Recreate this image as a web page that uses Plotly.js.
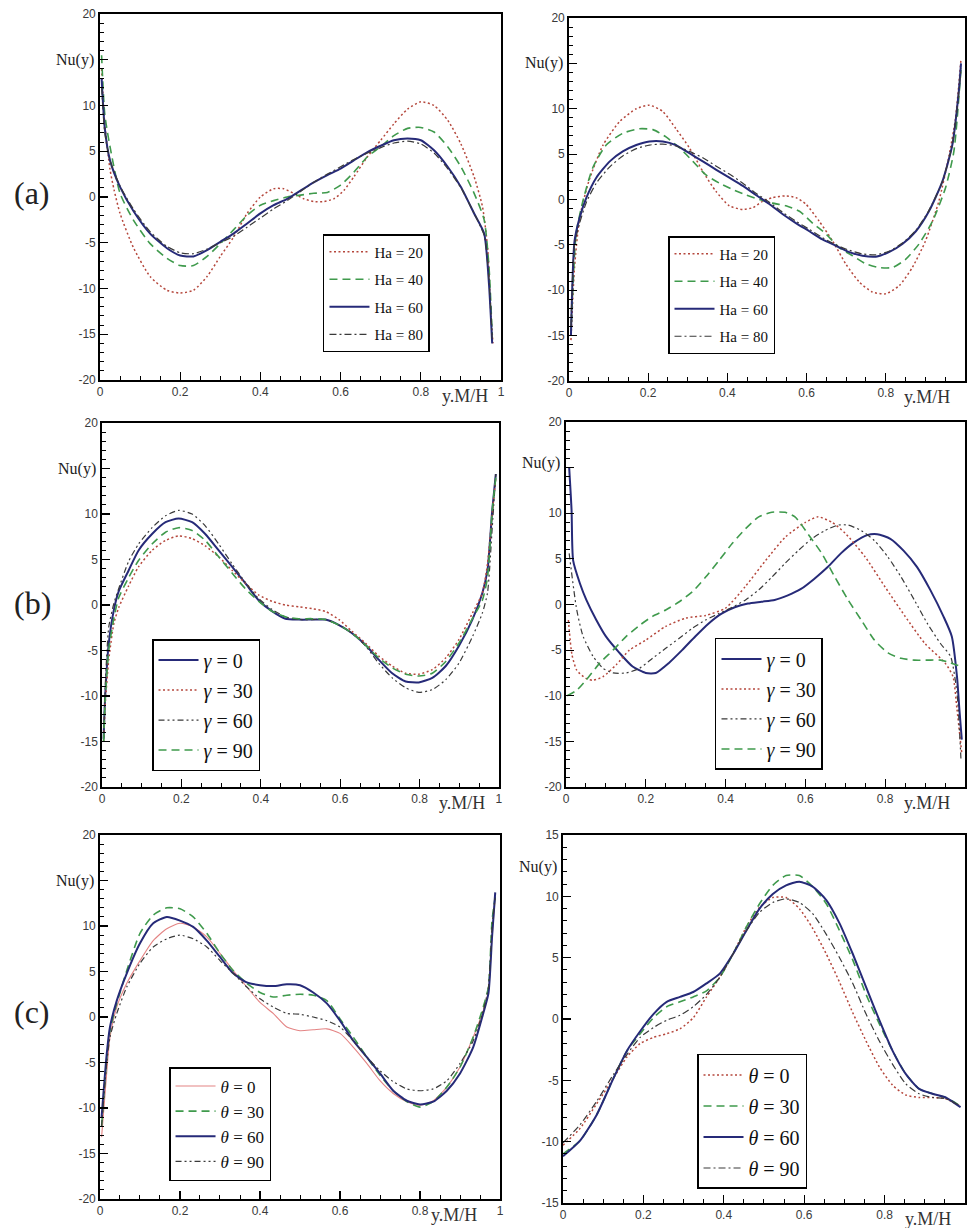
<!DOCTYPE html>
<html><head><meta charset="utf-8">
<script src="https://cdn.plot.ly/plotly-3.0.1.min.js"></script>
<style>html,body{margin:0;padding:0;background:#fff}#chart{width:967px;height:1228px}</style>
</head><body><div id="chart"></div><script>
// ---------- Panel (a) left : Ha ----------
const aL_x = [0.004,0.012,0.025,0.05,0.083,0.125,0.167,0.2,0.233,0.267,0.3,0.333,0.367,0.4,0.433,0.467,0.5,0.533,0.567,0.6,0.633,0.667,0.7,0.733,0.767,0.8,0.833,0.867,0.9,0.933,0.958,0.97,0.978];
const aL_ha20_x = [0.004,0.012,0.025,0.035,0.05,0.083,0.125,0.167,0.2,0.233,0.267,0.3,0.333,0.367,0.4,0.433,0.458,0.483,0.508,0.533,0.558,0.583,0.608,0.633,0.667,0.7,0.733,0.767,0.8,0.833,0.867,0.9,0.933,0.954,0.967,0.975,0.98];
const aL_ha20 = [14,8,3,0.8,-1.8,-5.5,-8.7,-10.2,-10.5,-10.2,-8.7,-6.5,-4.4,-1.8,0,0.9,0.9,0.4,-0.2,-0.5,-0.5,-0.2,0.7,2.2,4.4,6.2,8,9.6,10.4,10,8.4,5.8,2.2,-1.1,-5.8,-13,-16];
const aL_ha40 = [15.5,9,5.5,0.4,-2.5,-5.1,-6.7,-7.5,-7.5,-6.5,-5.1,-3.6,-2,-0.9,-0.4,0,0.2,0.4,0.5,1.3,2.7,4.4,5.5,6.7,7.5,7.6,7.1,5.5,3.3,0.4,-2.5,-7.6,-15];
const aL_ha60 = [13,7.5,4,1.1,-1.5,-4,-5.6,-6.4,-6.5,-5.8,-4.9,-4,-2.9,-1.8,-0.9,-0.2,0.7,1.6,2.4,3.1,4,4.9,5.6,6.2,6.4,6.2,5.1,3.3,1.1,-1.8,-4,-9.5,-16];
const aL_ha80 = [12,7,4,1.2,-1.3,-3.8,-5.4,-6.1,-6.2,-5.7,-5,-4.3,-3.3,-2.3,-1.3,-0.4,0.6,1.6,2.5,3.3,4.1,4.8,5.4,5.9,6.1,5.8,4.8,3.1,1,-1.8,-4.2,-9,-15.5];

// ---------- Panel (a) right : Ha ----------
const aR_ha20_x = [0.005,0.014,0.027,0.05,0.086,0.128,0.17,0.203,0.237,0.27,0.304,0.338,0.371,0.405,0.439,0.464,0.489,0.514,0.548,0.573,0.598,0.632,0.666,0.699,0.733,0.766,0.8,0.834,0.867,0.9,0.934,0.96,0.976,0.99];
const aR_ha20 = [-15.5,-7.5,-2,2,6,8.6,10,10.4,9.7,7.8,5.7,3.1,0.9,-0.7,-1.1,-0.9,-0.2,0.2,0.4,0.2,-0.5,-2.4,-4.6,-7.1,-9.1,-10.2,-10.4,-9.5,-7.5,-4.6,-0.2,4.9,8.9,15.5];
const aR_ha40_x = [0.005,0.018,0.035,0.06,0.094,0.136,0.178,0.212,0.245,0.279,0.313,0.346,0.38,0.413,0.447,0.48,0.514,0.548,0.582,0.615,0.649,0.682,0.716,0.75,0.783,0.817,0.85,0.884,0.918,0.951,0.972,0.99];
const aR_ha40 = [-15,-3.8,-0.2,3.5,6,7.3,7.8,7.7,6.9,5.7,4.2,2.7,1.8,1.1,0.5,0,-0.4,-0.7,-1.3,-2.6,-3.8,-5.3,-6.2,-7.1,-7.5,-7.5,-6.6,-4.9,-2.4,1.3,5.3,14.4];
const aR_x = [0.005,0.014,0.027,0.044,0.069,0.103,0.136,0.17,0.203,0.237,0.27,0.304,0.338,0.371,0.405,0.439,0.472,0.506,0.539,0.573,0.607,0.64,0.674,0.708,0.741,0.775,0.808,0.842,0.876,0.909,0.943,0.968,0.985,0.99];
const aR_ha60 = [-15,-4.6,-2,0.2,2.4,4.2,5.3,6,6.4,6.4,6,5.1,4.2,3.3,2.4,1.5,0.5,-0.5,-1.6,-2.6,-3.5,-4.4,-5.1,-5.8,-6.2,-6.3,-5.8,-4.9,-3.5,-1.3,2,6,12.2,15];
const aR_ha80 = [-14,-5,-2.6,-0.3,1.8,3.6,4.8,5.6,6,6.1,5.9,5.3,4.6,3.7,2.8,1.8,0.7,-0.3,-1.4,-2.4,-3.3,-4.2,-5,-5.6,-6,-6.1,-5.7,-4.8,-3.4,-1.2,2,6,12,14.5];

// ---------- Panel (b) left : gamma ----------
const bL_x = [0.004,0.008,0.017,0.03,0.042,0.067,0.092,0.126,0.16,0.193,0.227,0.26,0.294,0.328,0.361,0.395,0.429,0.462,0.496,0.529,0.563,0.597,0.63,0.664,0.697,0.731,0.765,0.798,0.832,0.866,0.899,0.933,0.958,0.971,0.983,0.992];
const bL_g0  = [-14.7,-10,-4.2,-0.5,1.5,3.8,6,7.8,9.1,9.5,9.1,7.8,6,4.2,2.4,0.5,-0.7,-1.5,-1.6,-1.6,-1.6,-2.2,-3.1,-4.4,-6,-7.5,-8.4,-8.5,-8,-6.7,-4.5,-1.6,1.3,3.8,10.4,14.4];
const bL_g30 = [-15,-11,-6,-2,-0.3,2.1,4.2,6,7.1,7.6,7.3,6.5,5.3,3.8,2.4,1.1,0.4,0,-0.2,-0.4,-0.7,-1.6,-2.9,-4.2,-5.6,-6.7,-7.5,-7.6,-7.1,-5.8,-3.8,-0.9,1.3,4.5,10,14];
const bL_g60 = [-15,-9,-2.4,0.2,1.8,4.8,6.7,8.5,9.8,10.4,10,8.7,6.7,4.5,2.5,0.7,-0.5,-1.3,-1.6,-1.6,-1.6,-2.2,-3.1,-4.5,-6.4,-8,-9.1,-9.6,-9.3,-8.2,-6.4,-3.5,-0.9,1.3,8.5,14.4];
const bL_g90 = [-15,-10.5,-4.9,-1.4,0.8,3,4.9,6.7,8,8.5,8.2,7.1,5.3,3.5,1.8,0.4,-0.7,-1.3,-1.5,-1.5,-1.6,-2.2,-3.1,-4.4,-5.8,-6.9,-7.6,-7.8,-7.5,-6.2,-4.2,-1.5,0.5,3,10.4,14];

// ---------- Panel (b) right : gamma ----------
const bR_g0_x = [0.008,0.014,0.018,0.035,0.051,0.076,0.1,0.134,0.167,0.2,0.225,0.258,0.291,0.324,0.357,0.39,0.423,0.456,0.49,0.523,0.556,0.589,0.622,0.656,0.689,0.722,0.755,0.78,0.813,0.846,0.88,0.913,0.946,0.967,0.98,0.986,0.992];
const bR_g0 = [15,10.3,4.8,2.3,0.5,-1.7,-3.5,-5.3,-6.8,-7.5,-7.5,-6.4,-5,-3.5,-2.1,-1,-0.3,0.1,0.3,0.5,1,1.7,2.8,4.1,5.6,6.8,7.6,7.7,7.2,5.9,4.1,1.6,-1.3,-3.5,-7.9,-11.5,-14.8];
const bR_g30_x = [0.006,0.015,0.027,0.05,0.068,0.093,0.126,0.159,0.2,0.25,0.3,0.35,0.4,0.45,0.5,0.55,0.6,0.632,0.667,0.7,0.75,0.8,0.85,0.9,0.95,0.97,0.98,0.992];
const bR_g30 = [-1.7,-5.5,-7.2,-8.1,-8.3,-7.9,-6.6,-5,-3.9,-2.4,-1.5,-1.2,-0.4,2,4.8,7.4,9,9.6,9,7.8,5.2,1.9,-1.3,-4.3,-6.4,-7.9,-11.5,-16.3];
const bR_g60_x = [0.008,0.027,0.043,0.068,0.093,0.118,0.151,0.184,0.217,0.25,0.284,0.317,0.35,0.383,0.417,0.45,0.483,0.516,0.549,0.582,0.616,0.649,0.682,0.707,0.74,0.773,0.807,0.84,0.873,0.906,0.939,0.964,0.98,0.99];
const bR_g60 = [5.6,-0.6,-3.5,-5.7,-7,-7.5,-7.5,-7,-5.9,-4.8,-3.7,-2.6,-1.7,-1,-0.3,0.5,1.6,3,4.5,5.9,7.2,8.1,8.7,8.7,8.1,7,5.2,3,0.5,-2.1,-4.3,-5.7,-9.7,-17];
const bR_g90_x = [0.003,0.027,0.05,0.085,0.118,0.151,0.184,0.217,0.25,0.284,0.317,0.35,0.383,0.417,0.45,0.483,0.516,0.549,0.574,0.607,0.641,0.674,0.707,0.74,0.773,0.807,0.84,0.873,0.906,0.939,0.964,0.99];
const bR_g90 = [-10,-9.4,-8.3,-6.4,-5,-3.5,-2.3,-1.3,-0.6,0.3,1.4,3,4.8,6.7,8.3,9.6,10.1,10.1,9.6,7.7,5.6,3,0.5,-1.7,-3.9,-5.3,-5.9,-6.1,-6.1,-6.1,-6.4,-6.8];

// ---------- Panel (c) left : theta ----------
const cL_x = [0.004,0.017,0.025,0.042,0.067,0.1,0.133,0.167,0.2,0.233,0.267,0.3,0.333,0.367,0.4,0.433,0.467,0.5,0.533,0.567,0.6,0.633,0.667,0.7,0.733,0.767,0.8,0.833,0.867,0.9,0.933,0.958,0.971,0.98,0.988];
const cL_t0  = [-13.2,-6,-2.2,1.1,3.7,6.2,8.4,9.7,10.3,9.9,8.8,7,5.1,3.3,1.6,0.4,-1.1,-1.5,-1.4,-1.3,-1.8,-3.3,-5.1,-7,-8.4,-9.3,-9.7,-9.2,-7.7,-5.5,-2.2,0.7,2.9,8.8,13.2];
const cL_t30 = [-12,-4.5,-1.5,1.5,5.1,9.2,11.2,12,11.9,11,9.2,7,5.1,3.7,2.7,2.2,2.4,2.5,2.4,1.8,-0.2,-2.2,-4.4,-6.4,-8.1,-9.3,-9.9,-9.3,-7.7,-5.5,-2.2,1.1,3.3,10.6,13.2];
const cL_t60 = [-11,-4,-1.1,1.8,4.8,8.1,10.3,11,10.6,9.9,8.4,6.6,4.8,3.8,3.5,3.4,3.6,3.5,2.7,1.5,-0.4,-2.6,-4.4,-6.2,-8.1,-9.2,-9.6,-9.3,-8.1,-6.2,-3.3,0.4,2.6,8.8,13.7];
const cL_t90 = [-12,-5,-2.2,0.4,3.3,5.9,7.7,8.6,9,8.6,7.7,6.2,4.8,3.3,2,1.1,0.4,0.3,0,-0.4,-1.1,-2.6,-4.4,-5.9,-7.1,-7.9,-8.1,-7.9,-7,-5.1,-2.6,0.7,3.3,9.9,13.2];

// ---------- Panel (c) right : theta ----------
const cR_x = [0,0.043,0.084,0.126,0.159,0.192,0.225,0.258,0.291,0.324,0.357,0.39,0.423,0.456,0.489,0.522,0.555,0.588,0.621,0.655,0.688,0.721,0.754,0.787,0.82,0.853,0.886,0.919,0.952,0.989];
const cR_t0  = [-10.3,-8.9,-6.9,-4.8,-3.1,-2,-1.5,-1.2,-0.8,0.1,1.8,3.4,5.3,7.5,9.1,9.9,9.9,9,7.4,5.3,3,0.5,-1.8,-3.9,-5.4,-6.2,-6.4,-6.4,-6.5,-7.1];
const cR_t30 = [-11,-9.9,-7.8,-4.8,-2.6,-1.2,0.1,1,1.4,1.8,2.3,3.4,5.3,7.5,9.4,10.9,11.7,11.7,10.8,9.4,7.2,4.8,2,-0.4,-2.6,-4.5,-5.7,-6.1,-6.4,-7.1];
const cR_t60 = [-11.2,-9.9,-7.8,-4.8,-2.6,-1,0.4,1.4,1.8,2.2,2.9,3.7,5.3,7.2,9,10.2,10.9,11.2,10.8,9.7,7.8,5.3,2.6,-0.1,-2.6,-4.5,-5.7,-6.1,-6.4,-7.2];
const cR_t90 = [-10.1,-8.6,-6.7,-4.5,-2.9,-1.5,-0.7,-0.1,0.3,1,2,3.4,5.3,7.2,8.7,9.5,9.8,9.5,8.6,6.9,5,2.9,0.4,-1.8,-3.7,-5.3,-6.1,-6.4,-6.5,-7.1];

// ---------- labels ----------
const haNames = ['Ha = 20','Ha = 40','Ha = 60','Ha = 80'];
const gammaNames = ['<i>γ</i> = 0','<i>γ</i> = 30','<i>γ</i> = 60','<i>γ</i> = 90'];
const thetaNames = ['<i>θ</i> = 0','<i>θ</i> = 30','<i>θ</i> = 60','<i>θ</i> = 90'];
const panelLabels = ['(a)','(b)','(c)'];
const yTickVals20 = [-20,-15,-10,-5,0,5,10,15,20];
const yTickText20 = ['-20','-15','-10','-5','0','5','10','','20'];
const yTickVals15 = [-15,-10,-5,0,5,10,15];
const yTickText15 = ['-15','-10','-5','0','5','10','15'];

// ---------- styles ----------
const RED='#b5473c', GREEN='#3f9a4c', NAVY='#262a78', DARK='#3a3a3a', PINK='#e48484';
const DOT='2px,2.5px', DASH='8px,5px', DASHDOT='7px,3px,2px,3px', DASHDOTDOT='6px,3px,2px,3px,2px,3px';
const S = {
  red:{color:RED,width:1.5,dash:DOT}, green:{color:GREEN,width:1.6,dash:DASH},
  navy:{color:NAVY,width:2,dash:'solid'}, dd:{color:DARK,width:1.2,dash:DASHDOT},
  ddd:{color:DARK,width:1.2,dash:DASHDOTDOT}, pink:{color:PINK,width:1.1,dash:'solid'}
};

const traces = [];
let gid = 0;
function add(x,y,name,ax,leg,st){
  gid++;
  traces.push({type:'scatter',mode:'lines',x:x,y:y,name:name,
    xaxis:'x'+(ax===1?'':ax), yaxis:'y'+(ax===1?'':ax),
    legend: leg, legendgroup:'g'+gid,
    line:{color:st.color,width:st.width,dash:st.dash,shape:'spline',smoothing:0.6},
    hoverinfo:'skip'});
}
add(aL_ha20_x,aL_ha20,haNames[0],1,'legend',S.red);
add(aL_x,aL_ha40,haNames[1],1,'legend',S.green);
add(aL_x,aL_ha60,haNames[2],1,'legend',S.navy);
add(aL_x,aL_ha80,haNames[3],1,'legend',S.dd);

add(aR_ha20_x,aR_ha20,haNames[0],2,'legend2',S.red);
add(aR_ha40_x,aR_ha40,haNames[1],2,'legend2',S.green);
add(aR_x,aR_ha60,haNames[2],2,'legend2',S.navy);
add(aR_x,aR_ha80,haNames[3],2,'legend2',S.dd);

add(bL_x,bL_g0,gammaNames[0],3,'legend3',S.navy);
add(bL_x,bL_g30,gammaNames[1],3,'legend3',S.red);
add(bL_x,bL_g60,gammaNames[2],3,'legend3',S.ddd);
add(bL_x,bL_g90,gammaNames[3],3,'legend3',S.green);

add(bR_g0_x,bR_g0,gammaNames[0],4,'legend4',S.navy);
add(bR_g30_x,bR_g30,gammaNames[1],4,'legend4',S.red);
add(bR_g60_x,bR_g60,gammaNames[2],4,'legend4',S.ddd);
add(bR_g90_x,bR_g90,gammaNames[3],4,'legend4',S.green);

add(cL_x,cL_t0,thetaNames[0],5,'legend5',S.pink);
add(cL_x,cL_t30,thetaNames[1],5,'legend5',S.green);
add(cL_x,cL_t60,thetaNames[2],5,'legend5',S.navy);
add(cL_x,cL_t90,thetaNames[3],5,'legend5',S.ddd);

add(cR_x,cR_t0,thetaNames[0],6,'legend6',S.red);
add(cR_x,cR_t30,thetaNames[1],6,'legend6',S.green);
add(cR_x,cR_t60,thetaNames[2],6,'legend6',S.navy);
add(cR_x,cR_t90,thetaNames[3],6,'legend6',S.dd);

const tickFont = {family:"'Liberation Sans', Arial, sans-serif", size:12, color:'#3a3a3a'};
function xax(dom){
  return {domain:dom, range:[0,1], tickmode:'linear', tick0:0, dtick:0.2,
    ticks:'inside', ticklen:8, tickwidth:1.2, tickcolor:'#000',
    minor:{tickmode:'linear', tick0:0, dtick:0.05, ticks:'inside', ticklen:4, tickcolor:'#000', tickwidth:1},
    showline:true, linecolor:'#000', linewidth:1.8, mirror:true, showgrid:false, zeroline:false,
    tickfont:tickFont, fixedrange:true};
}
function yax(dom, r, tv, tt, anchor){
  return {domain:dom, range:r, tickmode:'array', tickvals:tv, ticktext:tt, anchor:anchor,
    ticks:'inside', ticklen:8, tickwidth:1.2, tickcolor:'#000',
    minor:{tickmode:'linear', tick0:0, dtick:1, ticks:'inside', ticklen:4, tickcolor:'#000', tickwidth:1},
    showline:true, linecolor:'#000', linewidth:1.8, mirror:true, showgrid:false, zeroline:false,
    tickfont:tickFont, fixedrange:true};
}
const serif = "'Liberation Serif', 'DejaVu Serif', 'Times New Roman', serif";
function leg(x,y,size,gap){
  return {x:x, y:y, xanchor:'left', yanchor:'top', bgcolor:'#fff', bordercolor:'#000', borderwidth:1.5,
    font:{family:serif, size:size, color:'#111'},
    tracegroupgap:gap, itemwidth:40};
}

const annotations = [];
const axIds = ['','2','3','4','5','6'];
const nuY = [15,15,15,15.5,15,12.4];
const ymh = [[0.91,-20],[0.904,-20],[0.907,-20],[0.905,-20],[0.885,-20],[0.908,-15]];
axIds.forEach((id,i)=>{
  annotations.push({xref:'x'+id+' domain', yref:'y'+id, x:0, y:nuY[i], text:'Nu(y)', showarrow:false,
    xanchor:'right', yanchor:'middle', xshift:-4, font:{family:serif, size:16, color:'#222'}});
  annotations.push({xref:'x'+id, yref:'y'+id, x:ymh[i][0], y:ymh[i][1], text:'y.M/H', showarrow:false,
    xanchor:'center', yanchor:'top', yshift:-4, font:{family:serif, size:18, color:'#333'}});
});
const plY = [0.843, 0.509, 0.176];
panelLabels.forEach((t,i)=>{
  annotations.push({xref:'paper', yref:'paper', x:0.012, y:plY[i], text:t, showarrow:false,
    xanchor:'left', yanchor:'middle', font:{family:serif, size:32, color:'#222'}});
});

const layout = {
  width:967, height:1228, margin:{l:0,r:0,t:0,b:0},
  paper_bgcolor:'#fff', plot_bgcolor:'#fff', showlegend:true,
  xaxis: xax([0.1034,0.5181]),  yaxis: yax([0.6906,0.9886],[-20,20],yTickVals20,yTickText20,'x'),
  xaxis2:xax([0.5884,0.9979]),  yaxis2:yax([0.6898,0.9853],[-20,20],yTickVals20,yTickText20,'x2'),
  xaxis3:xax([0.1055,0.5160]),  yaxis3:yax([0.3591,0.6555],[-20,20],yTickVals20,yTickText20,'x3'),
  xaxis4:xax([0.5853,0.9979]),  yaxis4:yax([0.3591,0.6564],[-20,20],yTickVals20,yTickText20,'x4'),
  xaxis5:xax([0.1034,0.5171]),  yaxis5:yax([0.0236,0.3200],[-20,20],yTickVals20,yTickText20,'x5'),
  xaxis6:xax([0.5822,0.9979]),  yaxis6:yax([0.0204,0.3200],[-15,15],yTickVals15,yTickText15,'x6'),
  legend:  leg(0.334,0.8094,15,5),
  legend2: leg(0.6908,0.8078,15,5),
  legend3: leg(0.1572,0.4796,20,1),
  legend4: leg(0.7394,0.4805,20,1),
  legend5: leg(0.1748,0.1311,17,0),
  legend6: leg(0.7208,0.1417,20,2),
  annotations: annotations
};
['xaxis','xaxis2','xaxis3','xaxis4','xaxis5','xaxis6'].forEach((k,i)=>{ layout[k].anchor = 'y'+(i===0?'':(i+1)); });

Plotly.newPlot('chart', traces, layout, {staticPlot:true, displayModeBar:false});
</script></body></html>
